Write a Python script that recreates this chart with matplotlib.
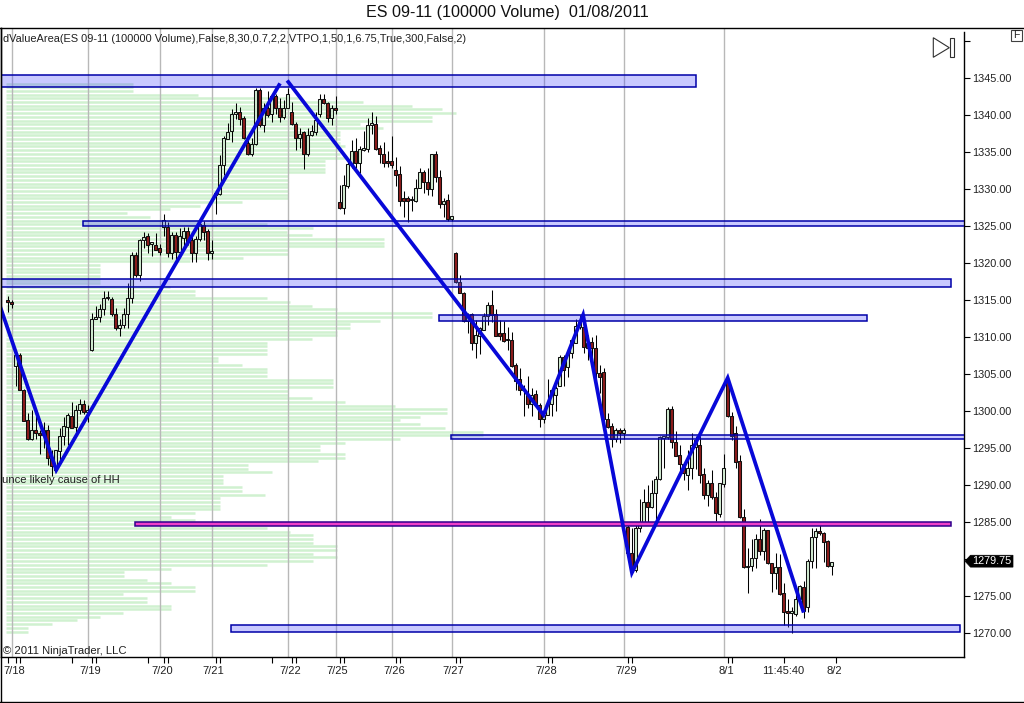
import matplotlib
matplotlib.use('Agg')
import matplotlib.pyplot as plt
import numpy as np
from matplotlib.lines import Line2D
from matplotlib.patches import Polygon, Rectangle

plt.rcParams['font.family'] = ['Liberation Sans', 'DejaVu Sans']

#%% price data
bar_open = [1315, 1314.75, 1306.1, 1307.6, 1302.9, 1298.8, 1296.2, 1297.5, 1297, 1296.75,
    1297.5, 1293.75, 1292, 1294.6, 1296.7, 1297.9, 1299.4, 1297.9, 1300.2, 1301,
    1299.9, 1308.3, 1312.45, 1312.75, 1313.75, 1315.25, 1315.2, 1313.1, 1311.2, 1311.6,
    1313.1, 1315.25, 1321.1, 1318.4, 1323.1, 1323.6, 1322.6, 1322.5, 1322, 1324.9,
    1324.9, 1321.3, 1323.8, 1321.5, 1323.4, 1324.3, 1323.1, 1321.3, 1323.2, 1325.1,
    1324.4, 1321.3, 1329.2, 1329.4, 1333.2, 1336.8, 1337.8, 1340.1, 1340.35, 1339.55,
    1336.2, 1334.75, 1336.05, 1343.4, 1338.7, 1341, 1340.1, 1342.5, 1341, 1339.75,
    1341, 1340.45, 1338.75, 1336.85, 1337.65, 1334.75, 1337.3, 1337.75, 1340.1, 1342.1,
    1341.6, 1339.55, 1341, 1328.3, 1327.5, 1330.45, 1333.4, 1335.1, 1333.55, 1335.3,
    1335.4, 1338.7, 1338.75, 1335.5, 1334.8, 1333.8, 1333.8, 1332.55, 1332, 1328.75,
    1328.75, 1328.5, 1328.45, 1330.2, 1332.25, 1331, 1330, 1334.8, 1331.6, 1328,
    1328.5, 1326, 1321.3, 1317.5, 1316, 1312.2, 1313.1, 1309.25, 1310.2, 1311,
    1312.85, 1314.35, 1313.1, 1310.5, 1310.5, 1309.6, 1309.6, 1306.2, 1304.3, 1302.85,
    1302.2, 1301, 1302.3, 1300.8, 1299, 1299.5, 1301, 1302.2, 1303.4, 1307.35,
    1306, 1307.8, 1309.25, 1311.4, 1311.4, 1309.25, 1309.3, 1308.5, 1305.2, 1305.25,
    1299, 1298, 1296.2, 1297.5, 1297, 1284.4, 1280.9, 1278.5, 1284.2, 1284.85,
    1287.7, 1287, 1289, 1290.85, 1296.35, 1296.5, 1300.25, 1295.8, 1294.1, 1292.9,
    1291.4, 1292.3, 1295.2, 1295.5, 1291.5, 1288.7, 1290.25, 1288.45, 1286.1, 1290.15,
    1304.3, 1299.35, 1297, 1293.3, 1285.65, 1278.9, 1279.1, 1280.2, 1282.7, 1281.15,
    1284, 1279.45, 1278.2, 1278.9, 1275.4, 1273, 1272.8, 1272.6, 1274.7, 1276.3,
    1273.6, 1279.75, 1283, 1283.85, 1283.5, 1282.5, 1279.15]
bar_high = [1315.5, 1315, 1307.9, 1307.9, 1303, 1299.7, 1300.2, 1299.7, 1297.5, 1298.6,
    1298.2, 1294.75, 1292.8, 1297.8, 1299.25, 1299.8, 1301.2, 1300.8, 1301.7, 1301.5,
    1300.8, 1313.2, 1314.25, 1314.5, 1316.3, 1316.3, 1315.4, 1313.9, 1312.5, 1314,
    1317.25, 1321.5, 1321.5, 1323.3, 1324.2, 1324, 1322.7, 1324, 1322.6, 1326.7,
    1325.6, 1324.2, 1324.2, 1324.8, 1324.9, 1324.9, 1323.6, 1323.6, 1326, 1325.7,
    1324.6, 1323.1, 1329.6, 1334.6, 1337.2, 1338.9, 1340.8, 1341.6, 1341.1, 1339.8,
    1336.85, 1336.85, 1343.6, 1343.6, 1341.6, 1343.3, 1342.8, 1342.9, 1342.25, 1342,
    1343.6, 1341.8, 1339.1, 1338.3, 1337.9, 1338.3, 1338.6, 1340.45, 1342.8, 1342.8,
    1341.8, 1341.35, 1342.6, 1330.5, 1331.9, 1333.9, 1336.6, 1336.85, 1335.8, 1337.9,
    1339.55, 1340.35, 1339.85, 1336, 1336.3, 1335.1, 1337.1, 1334.3, 1333.1, 1329.7,
    1329, 1329, 1331.3, 1332.8, 1332.55, 1332.8, 1334.8, 1335.1, 1332.55, 1328.75,
    1329.3, 1326.35, 1321.5, 1318.4, 1316.1, 1313.2, 1313.2, 1312.3, 1311.4, 1313.2,
    1314.8, 1316.35, 1313.75, 1312.3, 1312.2, 1311.4, 1310.7, 1306.5, 1305.8, 1303.5,
    1304.75, 1303.1, 1302.85, 1301.05, 1299.9, 1304.3, 1302.95, 1303.4, 1307.6, 1307.6,
    1308, 1309.85, 1312.5, 1313, 1313, 1310.3, 1310.05, 1310.3, 1306.2, 1305.8,
    1299.8, 1298.35, 1297.7, 1297.7, 1297.7, 1284.8, 1284.2, 1284.6, 1288.2, 1289.45,
    1290, 1290.7, 1291.25, 1296.6, 1296.65, 1300.6, 1300.7, 1297.3, 1295.4, 1293,
    1294.7, 1297, 1296.6, 1296.6, 1292.4, 1290.7, 1292.05, 1289.1, 1290.35, 1294.2,
    1304.6, 1299.9, 1298, 1294.1, 1286.75, 1281.5, 1282.8, 1283.4, 1285.5, 1284.2,
    1284, 1279.55, 1280.8, 1280.7, 1276.75, 1274.7, 1273.6, 1275.5, 1276.5, 1277.1,
    1280, 1284.2, 1284.2, 1284.85, 1283.75, 1282.6, 1279.7]
bar_low = [1313.4, 1313.9, 1303.4, 1302.9, 1298.7, 1296.1, 1296.1, 1296.2, 1294.2, 1295,
    1292.7, 1291.2, 1292, 1292.9, 1295.4, 1295.4, 1297.7, 1297.2, 1299.6, 1299.6,
    1298.5, 1308.1, 1312.4, 1312, 1313, 1315, 1312.8, 1311, 1310.2, 1311.2,
    1311.3, 1314.6, 1318.15, 1317.6, 1322, 1321.3, 1321, 1321.75, 1321.1, 1323.7,
    1320.8, 1320.5, 1320.4, 1321.1, 1322.2, 1322.4, 1320.2, 1320.2, 1323, 1323.1,
    1320.4, 1320.6, 1326.6, 1329.2, 1331.9, 1336.7, 1336.3, 1339.5, 1338.65, 1336.7,
    1334.6, 1334.5, 1336, 1338.4, 1337.75, 1339.75, 1339, 1340.2, 1339.1, 1339.4,
    1340.9, 1338.65, 1335.25, 1335.6, 1332.75, 1334.5, 1337.1, 1337.3, 1339.75, 1341.5,
    1339.1, 1338.65, 1340.2, 1327.25, 1326.7, 1330.1, 1332.8, 1332.8, 1332.2, 1335.2,
    1335.05, 1337.5, 1335.3, 1333.55, 1333, 1333, 1332.9, 1330.4, 1327.7, 1326.25,
    1325.6, 1327, 1328.3, 1330.1, 1329.5, 1329.2, 1329, 1331, 1327.5, 1326.25,
    1325.7, 1325.7, 1317.25, 1315.9, 1312.1, 1310.5, 1308.2, 1307.2, 1307.7, 1311,
    1311.65, 1312.1, 1310.15, 1309.6, 1309.4, 1308.2, 1306, 1302.8, 1302.2, 1299.3,
    1300.4, 1299.3, 1300.7, 1297.9, 1298.4, 1299.5, 1299.4, 1300.05, 1303.4, 1303.4,
    1304.65, 1307.2, 1309.15, 1311.1, 1307.9, 1306.9, 1305.6, 1302.6, 1302.5, 1298.4,
    1297.7, 1295.2, 1295.9, 1295.75, 1296.2, 1280.7, 1278.1, 1278.3, 1283.7, 1284.85,
    1285.1, 1286.9, 1285.5, 1290.7, 1292.3, 1296.2, 1295, 1293.9, 1291.5, 1290.7,
    1289.4, 1290.9, 1292.2, 1290.25, 1288.2, 1287.2, 1288.2, 1285.2, 1285.75, 1289.7,
    1299.2, 1296.1, 1292.4, 1285.6, 1278.8, 1275.4, 1278.45, 1278.85, 1280.6, 1279.9,
    1279.35, 1275.6, 1276.05, 1275.2, 1271.1, 1270.9, 1270.1, 1272.35, 1274.05, 1272.1,
    1272.9, 1278.85, 1278.85, 1283.3, 1279.7, 1279, 1277.9]
bar_close = [1314.7, 1314.5, 1307.6, 1302.9, 1298.7, 1296.2, 1297.5, 1297, 1296.75, 1297.5,
    1293.75, 1292.6, 1294.7, 1296.7, 1298, 1299.5, 1297.8, 1300.2, 1301, 1299.9,
    1300.2, 1312.5, 1312.75, 1313.75, 1315.25, 1315.25, 1313.1, 1311.2, 1311.7, 1313.1,
    1315.25, 1321.1, 1318.4, 1323.1, 1323.5, 1322.4, 1322.6, 1321.8, 1321.5, 1325.8,
    1321.3, 1323.8, 1321.5, 1323.6, 1324.3, 1322.9, 1321.3, 1323.3, 1325.25, 1324.2,
    1321.3, 1321.6, 1329.5, 1333.3, 1336.9, 1337.75, 1340.1, 1340.35, 1339.45, 1336.85,
    1334.8, 1336.1, 1343.4, 1338.65, 1341, 1340, 1342.6, 1341, 1339.75, 1341,
    1342.85, 1338.75, 1336.85, 1337.5, 1334.8, 1337.3, 1337.85, 1339.3, 1342.1, 1341.6,
    1339.55, 1341, 1340.7, 1327.4, 1330.5, 1333.4, 1335.1, 1333.5, 1335.35, 1335.5,
    1338.65, 1338.7, 1335.4, 1334.8, 1333.55, 1333.55, 1333.25, 1331.9, 1328.4, 1328.4,
    1328.4, 1328.5, 1330.2, 1332.25, 1331, 1330, 1334.8, 1331.6, 1328, 1328.45,
    1326, 1326.35, 1317.5, 1316, 1312.2, 1313, 1309.25, 1310.3, 1311.2, 1312.85,
    1314.35, 1313, 1310.2, 1310.2, 1309.5, 1309.6, 1306.1, 1304.1, 1302.85, 1302.85,
    1301, 1302.2, 1300.8, 1299, 1299.55, 1301, 1302.85, 1303.1, 1307.35, 1305.55,
    1307.8, 1309.6, 1311.5, 1312.1, 1308.7, 1308.5, 1308.5, 1305.1, 1304.65, 1299,
    1297.9, 1296.2, 1297.5, 1297, 1297.5, 1280.9, 1278.3, 1284.2, 1284.85, 1287.7,
    1287, 1289, 1290.9, 1296.5, 1296.6, 1300.25, 1295.8, 1294, 1292.9, 1291.6,
    1292.3, 1295.4, 1296.1, 1291.4, 1288.7, 1290.25, 1288.4, 1286.2, 1290.25, 1292.4,
    1299.3, 1296.7, 1293.2, 1285.65, 1278.9, 1279.1, 1280.2, 1282.7, 1281.15, 1284,
    1279.45, 1278.2, 1278.9, 1275.3, 1272.9, 1272.7, 1272.8, 1274.7, 1276.4, 1273,
    1279.75, 1283, 1283.85, 1283.5, 1282.4, 1279.15, 1279.7]

# volume profile, length of each row from the bottom row up
profile_bottom = 1270.25
profile_step = 0.5
profile_len = [28, 28, 52, 77, 100, 123, 171, 171, 147, 147, 123, 195, 195, 171, 147, 124, 124, 171, 267, 313,
    337, 313, 337, 337, 313, 313, 313, 290, 267, 195, 195, 171, 195, 220, 220, 220, 220, 265, 242, 242,
    223, 223, 223, 272, 248, 248, 318, 345, 345, 320, 320, 345, 400, 483, 483, 445, 420, 400, 420, 447,
    447, 395, 345, 312, 288, 288, 333, 333, 333, 267, 267, 267, 242, 218, 218, 267, 267, 267, 267, 312,
    337, 337, 350, 350, 380, 432, 432, 337, 312, 290, 267, 195, 195, 170, 100, 100, 100, 100, 100, 100,
    190, 243, 288, 288, 384, 384, 384, 312, 287, 313, 267, 200, 150, 127, 170, 200, 242, 288, 288, 288,
    288, 288, 288, 288, 325, 325, 325, 325, 345, 340, 340, 345, 340, 340, 340, 340, 383, 360, 432, 432,
    456, 442, 412, 363, 300, 198, 133, 133, 133]

# zigzag swing points, bar number and price
zig_bar = [-1.8, 12.2, 67.9]
zig_price = [1314.07, 1292.06, 1344.05]
zig2_bar = [70.2, 134.0, 143.9, 156.1, 180.05, 198.9]
zig2_price = [1344.46, 1299.5, 1313, 1278.2, 1304.5, 1273.05]

# drawn zones: start bar, end bar, low, high
zone_start = [-3, 18.9, -3, 107.9, 110.9, 55.9]
zone_end = [172.2, 242, 235.9, 214.9, 242, 238.1]
zone_low = [1343.75, 1325.05, 1316.75, 1312.15, 1296.2, 1270.25]
zone_high = [1345.4, 1325.7, 1317.8, 1313, 1296.8, 1271.1]
pink_start, pink_end, pink_low, pink_high = 31.9, 235.9, 1284.45, 1285

session_bars = [1, 20, 38, 51, 70, 82, 96, 111, 134, 154, 179]
minor_ticks = [0, 2, 3, 16, 21, 22, 35, 39, 40, 52, 53, 66, 71, 72, 83, 84, 97, 98, 112, 113, 135, 136, 155, 156,
               180, 181, 194, 207]
x_labels = ['7/18', '7/19', '7/20', '7/21', '7/22', '7/25', '7/26', '7/27', '7/28', '7/29', '8/1', '11:45:40', '8/2']
x_label_bars = [1.7, 20.7, 38.7, 51.55, 70.7, 82.55, 96.75, 111.55, 134.75, 154.75, 179.65, 193.85, 206.65]
y_ticks = [1270, 1275, 1280, 1285, 1290, 1295, 1300, 1305, 1310, 1315, 1320, 1325, 1330, 1335, 1340, 1345]
y_labels = ['1270.00', '1275.00', '', '1285.00', '1290.00', '1295.00', '1300.00', '1305.00', '1310.00', '1315.00',
            '1320.00', '1325.00', '1330.00', '1335.00', '1340.00', '1345.00']
last_price = 1279.75

#%% figure
W, H = 1024, 703
fig = plt.figure(figsize=(W/100, H/100), dpi=100)
ax = fig.add_axes([0.5/W, (H-657)/H, 963/W, (657-28)/H])
ax.set_xlim((0.5-7.5)/4, (963.5-7.5)/4)
ax.set_ylim(1266.81, 1351.75)


def fx(px):
    return px/W


def fy(py):
    return 1-py/H


# profile rows
rows = profile_bottom+profile_step*np.arange(len(profile_len))
ax.hlines(rows, (6-7.5)/4, (np.array(profile_len)-7.5)/4, color='#d0f1d0', lw=1.8, zorder=1)

for b in session_bars:
    ax.axvline(b, color='#b8b8b8', lw=1.0, zorder=2)

# candles
b_open = np.array(bar_open)
b_close = np.array(bar_close)
idx = np.arange(len(bar_open))
up = b_close >= b_open
ax.vlines(idx, bar_low, bar_high, color='black', lw=0.75, zorder=3)
body = np.abs(b_close-b_open)
ax.bar(idx[up], np.maximum(body[up], 0.2), bottom=b_open[up], width=0.72, color='#d2ecd2', edgecolor='#101010', lw=0.75, zorder=4)
ax.bar(idx[~up], np.maximum(body[~up], 0.2), bottom=b_close[~up], width=0.72, color='#8c1c1c', edgecolor='#101010', lw=0.75, zorder=4)

# zones are see-through, candles show under them
for s, e, lo, hi in zip(zone_start, zone_end, zone_low, zone_high):
    ax.add_patch(Rectangle((s, lo), e-s, hi-lo, facecolor=(0.3, 0.3, 1, 0.3), edgecolor='#0000a8', lw=1.1, zorder=5))
ax.add_patch(Rectangle((pink_start, pink_low), pink_end-pink_start, pink_high-pink_low,
                       facecolor='#f040c8', edgecolor='#30008c', lw=1.1, zorder=5))

ax.plot(zig_bar, zig_price, color='#0808d8', lw=2.7, solid_joinstyle='miter', zorder=6)
ax.plot(zig2_bar, zig2_price, color='#0808d8', lw=2.7, solid_joinstyle='miter', zorder=6)

# axes
ax.yaxis.tick_right()
ax.set_yticks(y_ticks+[1350])
ax.set_yticklabels(y_labels+[''], fontsize=7.8, color='#202020')
ax.tick_params(axis='y', length=4.2, width=0.8, pad=2)
ax.set_xticks(minor_ticks)
ax.set_xticklabels([])
ax.tick_params(axis='x', length=4.2, width=0.8)
for lab, b in zip(x_labels, x_label_bars):
    ax.annotate(lab, xy=(b, 0), xycoords=('data', 'axes fraction'), xytext=(0, -9), textcoords='offset pixels',
                ha='center', va='top', fontsize=8, color='#202020')
ax.spines['top'].set_visible(False)
ax.spines['right'].set_bounds(1266.81, 1351.2)
ax.spines['left'].set_linewidth(1.0)
ax.spines['bottom'].set_linewidth(1.0)
ax.spines['right'].set_linewidth(1.0)

# last price flag
ax.add_patch(Polygon([(964.5/963, last_price), (970/963, last_price+0.8), (1012.5/963, last_price+0.8),
                      (1012.5/963, last_price-0.8), (970/963, last_price-0.8)],
                     closed=True, transform=ax.get_yaxis_transform(), facecolor='black', edgecolor='black',
                     lw=0.5, clip_on=False, zorder=7))
ax.text(991.5/963, last_price, '1279.75', transform=ax.get_yaxis_transform(), color='white', fontsize=7.8,
        ha='center', va='center', zorder=8)

# text
fig.text(fx(507), fy(13), 'ES 09-11 (100000 Volume)  01/08/2011', ha='center', va='center', fontsize=11.6, color='#101010')
fig.text(fx(3), fy(39), 'dValueArea(ES 09-11 (100000 Volume),False,8,30,0.7,2,2,VTPO,1,50,1,6.75,True,300,False,2)',
         ha='left', va='center', fontsize=7.95, color='#202020')
fig.text(fx(2), fy(480), 'unce likely cause of HH', ha='left', va='center', fontsize=8.15, color='#202020', zorder=9)
fig.text(fx(3), fy(651), '\u00a9 2011 NinjaTrader, LLC', ha='left', va='center', fontsize=8.15, color='#202020', zorder=9)

# window furniture
fig.add_artist(Line2D([0, 1], [fy(27.7), fy(27.7)], color='black', lw=1.0))
fig.add_artist(Line2D([fx(0.5), fx(0.5)], [fy(27.7), fy(702)], color='black', lw=1.0))
fig.add_artist(Line2D([0, 1], [fy(701.7), fy(701.7)], color='black', lw=1.0))
fig.add_artist(Rectangle((fx(1010.5), fy(40.7)), 11/W, 10.7/H, transform=fig.transFigure, facecolor='white', edgecolor='#404040', lw=0.8))
fig.text(fx(1016), fy(35.5), 'F', ha='center', va='center', fontsize=7.5, color='#202020')
fig.add_artist(Polygon([(fx(933.3), fy(37.7)), (fx(949.3), fy(47.7)), (fx(933.3), fy(57.3))], closed=True,
                       transform=fig.transFigure, facecolor='white', edgecolor='#303030', lw=0.8))
fig.add_artist(Rectangle((fx(950.2), fy(57.3)), 3.4/W, 19.6/H, transform=fig.transFigure, facecolor='white', edgecolor='#303030', lw=0.8))

fig.savefig('out.png', dpi=100)
